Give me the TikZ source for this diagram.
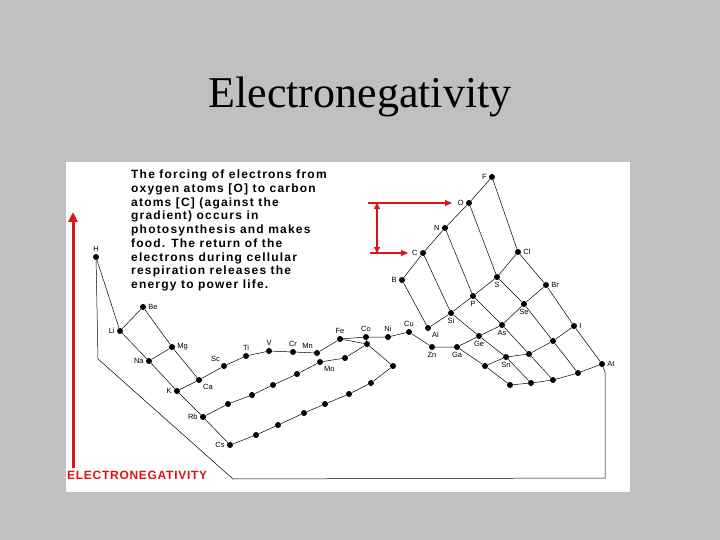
\documentclass[tikz,border=0pt]{standalone}
\usepackage{fontspec}
\setmainfont{Liberation Serif}
\setsansfont{Liberation Sans}
\usetikzlibrary{arrows.meta,positioning}
\definecolor{bg}{RGB}{192,192,192}
\definecolor{myred}{RGB}{220,20,20}
\begin{document}
\begin{tikzpicture}[x=1pt,y=-1pt,
  dot/.style={circle,fill=black,inner sep=0pt,minimum size=6pt},
  el/.style={font=\sffamily\fontsize{7.5}{8}\selectfont,inner sep=1pt},
  ln/.style={black,line width=0.5pt},
  redln/.style={myred,line width=1.2pt}]
\fill[bg] (0,0) rectangle (720,540);
\useasboundingbox (0,0) rectangle (720,540);
\fill[white] (66,162) rectangle (630,492);
\node (title) at (360,97) {\fontsize{44}{48}\selectfont Electronegativity};
\node[anchor=north west,align=left,font=\sffamily\bfseries\fontsize{12}{13.7}\addfontfeature{LetterSpace=10}\selectfont,inner sep=0pt] (txt) at (131,170)
{The forcing of electrons from\\oxygen atoms [O] to carbon\\atoms [C] (against the\\gradient) occurs in\\photosynthesis and makes\\food. The return of the\\electrons during cellular\\respiration releases the\\energy to power life.};
\foreach \n/\x/\y in {H/96/257,Li/120/331,Be/143/307,Na/149/361,Mg/172/347,K/177/391,Ca/199/380,Rb/203/417,Cs/230/445,
 Sc/224/366,Ti/246/356,V/269/351,Cr/293/352,Mn/317/353,Fe/340/339,Co/366/337,Ni/388/337,Cu/409/332,Zn/432/347,
 X/367/344,Mo/320/362,r5a/228/404,r5b/252/395,r5c/273/385,r5d/297/374,r5f/345/358,
 r6a/256/435,r6b/278/425,r6c/304/413,r6d/325/404,r6e/349/394,r6f/371/383,r6g/393/366,
 B/402/280,C/423/253,N/445/228,O/469/203,F/492/177,
 Al/428/328,Si/451/313,P/473/296,S/497/277,Cl/518/252,
 Ga/457/347,Ge/479/336,As/502/325,Se/524/304,Br/546/285,
 In/485/366,Sn/506/357,Sb/529/354,Te/553/341,I/574/326,
 Tl/510/385,Pb/531/383,Bi/553/380,Po/578/373,At/602/364}
  {\node[dot] (\n) at (\x,\y) {};}
\coordinate (h1) at (98,359);
\coordinate (h2) at (233,479);
\coordinate (h3) at (605,478);
\coordinate (h4) at (605,372);
\foreach \n/\p in {H/above,Li/left,Be/right,Na/left,Mg/right,K/left,Ca/below right,Rb/left,Cs/left,Sc/above left,Ti/above,V/above,Cr/above,Mn/above left,Fe/above,Co/above,Ni/above,Cu/above,Zn/below,Ga/below,Mo/below right,
 B/left,C/left,N/left,O/left,F/left,Al/below right,Si/below,P/below,S/below,Cl/right,Ge/below,As/below,Se/below,Br/right,Sn/below,I/right,At/right}
  {\node[el,\p=1pt of \n] {\n};}
\draw[ln] (H)--(Li)--(Na)--(K)--(Rb)--(Cs);
\draw[ln] (H)--(h1)--(h2)--(h3)--(h4)--(At);
\draw[ln] (Be)--(Li); \draw[ln] (Be)--(Mg)--(Ca); \draw[ln] (Na)--(Mg);
\draw[ln] (K)--(Ca)--(Sc)--(Ti)--(V)--(Cr)--(Mn)--(Fe)--(Co)--(Ni)--(Cu)--(Zn)--(Ga)--(Ge)--(As)--(Se)--(Br);
\draw[ln] (Fe)--(X); \draw[ln] (Co)--(X);
\draw[ln] (Rb)--(r5a)--(r5b)--(r5c)--(r5d)--(Mo)--(r5f)--(X)--(r6g)--(r6f)--(r6e)--(r6d)--(r6c)--(r6b)--(r6a)--(Cs);
\draw[ln] (B)--(C)--(N)--(O)--(F);
\draw[ln] (Al)--(Si)--(P)--(S)--(Cl);
\draw[ln] (In)--(Sn)--(Sb)--(Te)--(I);
\draw[ln] (Tl)--(Pb)--(Bi)--(Po)--(At);
\draw[ln] (B)--(Al); \draw[ln] (C)--(Si)--(Ge)--(Sn)--(Pb);
\draw[ln] (N)--(P)--(As)--(Sb)--(Bi);
\draw[ln] (O)--(S)--(Se)--(Te)--(Po);
\draw[ln] (F)--(Cl)--(Br)--(I)--(At);
\draw[ln] (Ga)--(In)--(Tl);
\coordinate (ea) at (73,468);
\coordinate (eb) at (73,212);
\draw[myred,line width=3pt,-{Triangle[length=10pt,width=9pt]}] (ea)--(eb);
\node[anchor=west,font=\sffamily\bfseries\fontsize{12}{12}\addfontfeature{LetterSpace=6}\selectfont,text=myred,inner sep=0pt] (elab) at (67,475) {ELECTRONEGATIVITY};
\coordinate (a1) at (368,203); \coordinate (a2) at (452,203);
\coordinate (a3) at (370,253); \coordinate (a4) at (408,253);
\coordinate (a5) at (377,203); \coordinate (a6) at (377,253);
\draw[redln,-{Triangle[length=7pt,width=6pt]}] (a1)--(a2);
\draw[redln,-{Triangle[length=7pt,width=6pt]}] (a3)--(a4);
\draw[redln,{Triangle[length=6pt,width=6pt]}-{Triangle[length=6pt,width=6pt]}] (a5)--(a6);
\end{tikzpicture}
\end{document}
